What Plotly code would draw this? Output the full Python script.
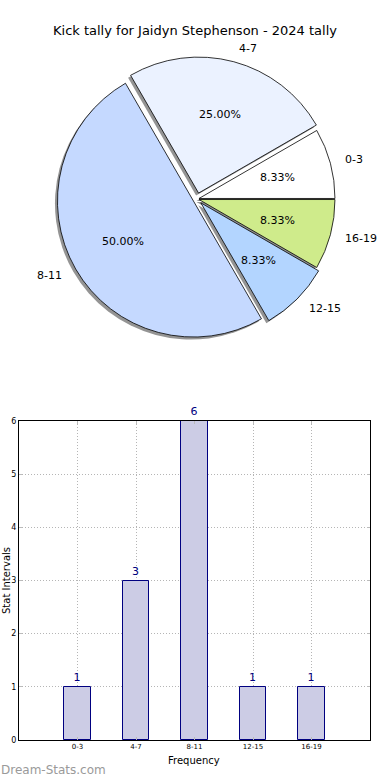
import math
import plotly.graph_objects as go

# ---- data ----
categories = ["0-3", "4-7", "8-11", "12-15", "16-19"]
counts = [1, 3, 6, 1, 1]
pie_colors = ["#FFFFFF", "#EBF2FF", "#C5D9FF", "#B3D5FF", "#CFEB8B"]
pulls = [0.015, 0.045, 0.03, 0.04, 0.015]
title_text = "Kick tally for Jaidyn Stephenson - 2024 tally"
bar_y_ticks = [0, 1, 2, 3, 4, 5, 6]

W, H = 390, 780
FONT = "DejaVu Sans"

# pie geometry (pixels)
CX, CY, R = 197, 199, 136
max_pull = max(pulls)
half = R * (1 + max_pull)
total = sum(counts)
# first slice starts at 3 o'clock and runs counterclockwise (matplotlib default)
rot = 90 - 360.0 * counts[0] / total


def px(x):
    return x / W


def py(y):
    return 1 - y / H


fig = go.Figure()

# shadow pie
sh = 2.5
fig.add_trace(go.Pie(
    labels=categories, values=counts, sort=False, direction="counterclockwise",
    rotation=rot, pull=pulls, textinfo="none", hoverinfo="skip",
    marker=dict(colors=["rgba(0,0,0,0.42)"] * len(counts), line=dict(width=0)),
    domain=dict(x=[px(CX - sh - half), px(CX - sh + half)],
                y=[py(CY + sh + half), py(CY + sh - half)]),
    showlegend=False,
))

# main pie
fig.add_trace(go.Pie(
    labels=categories, values=counts, sort=False, direction="counterclockwise",
    rotation=rot, pull=pulls, textinfo="none",
    marker=dict(colors=pie_colors, line=dict(color="#000000", width=0.8)),
    domain=dict(x=[px(CX - half), px(CX + half)],
                y=[py(CY + half), py(CY - half)]),
    showlegend=False,
))

annotations = []
start = 0.0
for lab, v, p in zip(categories, counts, pulls):
    ang = 360.0 * v / total
    mid = math.radians(start + ang / 2)
    start += ang
    c, s = math.cos(mid), math.sin(mid)
    # label at 1.1 R
    d = R * 1.1 + p * R
    lx, ly = CX + d * c, CY - d * s
    annotations.append(dict(
        x=px(lx), y=py(ly), xref="paper", yref="paper", text=lab, showarrow=False,
        xanchor="left" if c >= 0 else "right", yanchor="middle",
        font=dict(family=FONT, size=11, color="#000000")))
    # percentage at 0.6 R
    d2 = R * 0.6 + p * R
    tx, ty = CX + d2 * c, CY - d2 * s
    annotations.append(dict(
        x=px(tx), y=py(ty), xref="paper", yref="paper",
        text="%.2f%%" % (100.0 * v / total), showarrow=False,
        xanchor="center", yanchor="middle",
        font=dict(family=FONT, size=11, color="#000000")))

# bar chart
fig.add_trace(go.Bar(
    x=categories, y=counts, width=0.45,
    marker=dict(color="#CCCCE5", line=dict(color="#000080", width=1)),
    text=[str(c) for c in counts], textposition="outside",
    textfont=dict(family=FONT, size=11, color="#000080"),
    cliponaxis=False, showlegend=False, xaxis="x", yaxis="y",
))

# axis titles, title, watermark
annotations.append(dict(x=px(194), y=py(760), xref="paper", yref="paper",
                        text="Frequency", showarrow=False, xanchor="center",
                        yanchor="middle", font=dict(family=FONT, size=10, color="#000")))
annotations.append(dict(x=px(6), y=py(581), xref="paper", yref="paper",
                        text="Stat Intervals", showarrow=False, textangle=-90,
                        xanchor="center", yanchor="middle",
                        font=dict(family=FONT, size=10, color="#000")))
annotations.append(dict(x=px(-1), y=py(770), xref="paper", yref="paper",
                        text="Dream-Stats.com", showarrow=False, xanchor="left",
                        yanchor="middle",
                        font=dict(family=FONT, size=12, color="#9A9A9A")))

grid = dict(showgrid=True, gridcolor="#B5B5B5", griddash="1px,2px", gridwidth=1)

fig.update_layout(
    width=W, height=H,
    margin=dict(l=0, r=0, t=0, b=0, autoexpand=False),
    paper_bgcolor="white", plot_bgcolor="white",
    font=dict(family=FONT, color="#000"),
    title=dict(text=title_text, x=px(195), xanchor="center", y=py(30), yanchor="middle",
               font=dict(family=FONT, size=13, color="#000")),
    annotations=annotations,
    bargap=0,
    xaxis=dict(
        domain=[px(19), px(370)], range=[-1, 5], type="category", automargin=False,
        showline=True, mirror="ticks", linecolor="#000", linewidth=1,
        ticks="inside", ticklen=3, tickcolor="#BBBBBB",
        tickfont=dict(family=FONT, size=7, color="#000"),
        zeroline=False, fixedrange=True, **grid,
    ),
    yaxis=dict(
        domain=[py(740), py(421)], range=[0, 6], tickvals=bar_y_ticks, automargin=False,
        showline=True, mirror="ticks", linecolor="#000", linewidth=1,
        ticks="inside", ticklen=3, tickcolor="#BBBBBB",
        tickfont=dict(family=FONT, size=8, color="#000"),
        zeroline=False, fixedrange=True, **grid,
    ),
)

fig.write_html(
    "out.html",
    config={"displayModeBar": False},
    post_script="document.body.style.margin='0px';document.body.style.overflow='hidden';",
)
